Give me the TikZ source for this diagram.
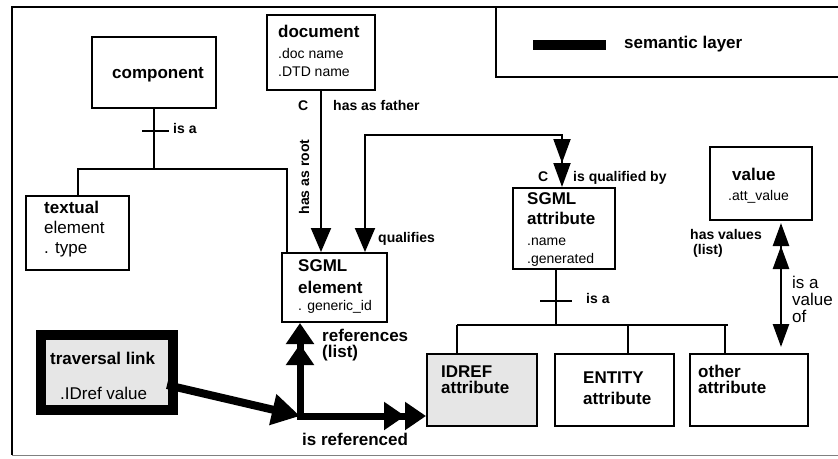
\documentclass[tikz,border=0pt]{standalone}
\usepackage{fontspec}
\setmainfont{Liberation Sans}
\usetikzlibrary{arrows.meta,calc}
\definecolor{lgray}{RGB}{230,230,230}
\begin{document}
\begin{tikzpicture}[x=1pt,y=-1pt,
  box/.style={draw, line width=2pt, inner sep=0pt, rectangle},
  bt/.style={font=\bfseries\fontsize{17}{20}\selectfont, anchor=base west, inner sep=0pt},
  rt/.style={font=\fontsize{17}{20}\selectfont, anchor=base west, inner sep=0pt},
  st/.style={font=\fontsize{14}{16}\selectfont, anchor=base west, inner sep=0pt},
  lb/.style={font=\bfseries\fontsize{14}{16}\selectfont, anchor=base west, inner sep=0pt},
  conn/.style={line width=2pt},
  thin tip/.style={line width=2pt, -{Triangle[width=20pt,length=24pt]}},
  fat/.style={line width=7pt, line cap=rect, -{Triangle[width=27pt,length=21pt,sep=0pt]Triangle[width=27pt,length=21pt]}}
]
\useasboundingbox (0,0) rectangle (838,458);
% frame
\draw[line width=2pt] (838,7) -- (12,7) -- (12,455);
\draw[line width=1pt, gray] (12,455) -- (838,455);
% legend
\draw[line width=2pt] (496,7) -- (496,77) -- (838,77);
\fill (533,40) rectangle (606,50);
\node[bt] (leg) at (624,48) {semantic layer};

% boxes
\node[box, minimum width=124pt, minimum height=71pt] (component) at (154,72.5) {};
\node[box, minimum width=108pt, minimum height=75pt] (document) at (321,52.5) {};
\node[box, minimum width=105pt, minimum height=69pt] (element) at (334.5,287.5) {};
\node[box, minimum width=102pt, minimum height=81pt] (attr) at (564,228.5) {};
\node[box, minimum width=102pt, minimum height=73pt] (value) at (761,183.5) {};
\node[box, minimum width=103pt, minimum height=74pt] (textual) at (77.5,233) {};
\node[box, fill=lgray, minimum width=110pt, minimum height=72pt] (idref) at (482,390) {};
\node[box, minimum width=119pt, minimum height=72pt] (entity) at (614.5,390) {};
\node[box, minimum width=118pt, minimum height=72pt] (other) at (749,390) {};
\node[box, line width=10pt, fill=lgray, minimum width=132pt, minimum height=75pt] (traversal) at (107,372.5) {};

% box texts
\node[bt] (t1) at (112,78) {component};
\node[bt] (t2) at (278,37) {document};
\node[st] (t3) at (278,58) {.doc name};
\node[st] (t4) at (278,76) {.DTD name};
\node[bt] (t5) at (298,271) {SGML};
\node[bt] (t6) at (298,293) {element};
\node[st] (t7) at (298,310) {. generic\_id};
\node[bt] (t8) at (527,204) {SGML};
\node[bt] (t9) at (527,224) {attribute};
\node[st] (t10) at (527,245) {.name};
\node[st] (t11) at (527,263) {.generated};
\node[bt] (t12) at (732,180) {value};
\node[st] (t13) at (728,200) {.att\_value};
\node[bt] (t14) at (44,213) {textual};
\node[rt] (t15) at (44,233) {element};
\node[rt] (t16) at (44,253) {. type};
\node[bt] (t17) at (441,377) {IDREF};
\node[bt] (t18) at (441,393) {attribute};
\node[bt] (t19) at (583,383) {ENTITY};
\node[bt] (t20) at (583,404) {attribute};
\node[bt] (t21) at (698,377) {other};
\node[bt] (t22) at (698,393) {attribute};
\node[bt] (t23) at (50,364) {traversal link};
\node[rt] (t24) at (60,399) {.IDref value};

% labels
\node[lb] (l1) at (298,110) {C};
\node[lb] (l2) at (333,110) {has as father};
\node[lb, rotate=90, anchor=base] (l3) at (309,177) {has as root};
\node[lb] (l4) at (378,242) {qualifies};
\node[lb] (l5) at (538,181) {C};
\node[lb] (l6) at (573,181) {is qualified by};
\node[lb] (l7) at (690,239) {has values};
\node[lb] (l8) at (693,254) {(list)};
\node[rt] (l9) at (792,288) {is a};
\node[rt] (l10) at (792,305) {value};
\node[rt] (l11) at (792,322) {of};
\node[lb] (l12) at (586,303) {is a};
\node[lb] (l13) at (173,133) {is a};
\node[bt] (l14) at (322,341) {references};
\node[bt] (l15) at (322,357) {(list)};
\node[bt] (l16) at (302,445) {is referenced};

% component tree
\coordinate (rv) at (287,169);
\draw[conn] (component.south) -- (component.south |- rv);
\draw[conn] (textual.north) |- (rv) -- (rv |- element.north);
\draw[conn] ($(component.south)+(-12,22)$) -- ++(27,0);

% document -> element
\draw[thin tip] (document.south) -- (document.south |- element.north);

% qualifies
\coordinate (q1) at (365,135);
\coordinate (q2) at (562,135);
\draw[line width=2pt, {Triangle[width=20pt,length=24pt]}-{Triangle[width=17pt,length=24pt,sep=0pt]Triangle[width=17pt,length=24pt]}]
  (q1 |- element.north) -- (q1) -- (q2) -- (q2 |- attr.north);

% attribute tree
\coordinate (al) at (457,325);
\coordinate (ar) at (728,325);
\coordinate (as) at ($(attr.south)+(-8,0)$);
\coordinate (ex) at ($(entity.north)+(13.5,0)$);
\coordinate (ox) at ($(other.north)+(-24,0)$);
\draw[conn] (as) -- (as |- al);
\draw[conn] (al) -- (ar);
\draw[conn] (al) -- (al |- idref.north);
\draw[conn] (ex |- al) -- (ex);
\draw[conn] (ox |- al) -- (ox);
\draw[conn] ($(as)+(-16,31)$) -- ++(32,0);

% value <-> other
\draw[line width=2.5pt, {Triangle[width=16pt,length=23pt,sep=0pt]Triangle[width=16pt,length=23pt]}-{Triangle[width=16pt,length=23pt]}]
  ($(value.south)+(20,2)$) -- ($(other.north)+(32,-6)$);

% semantic links
\coordinate (J) at (300,416);
\coordinate (tstart) at (167,385);
\draw[line width=8pt, -{Triangle[width=30pt,length=28pt]}] (tstart) -- (J);
\draw[fat] (J) -- (J |- element.south);
\draw[fat] (J) -- (J -| idref.west);
\end{tikzpicture}
\end{document}
